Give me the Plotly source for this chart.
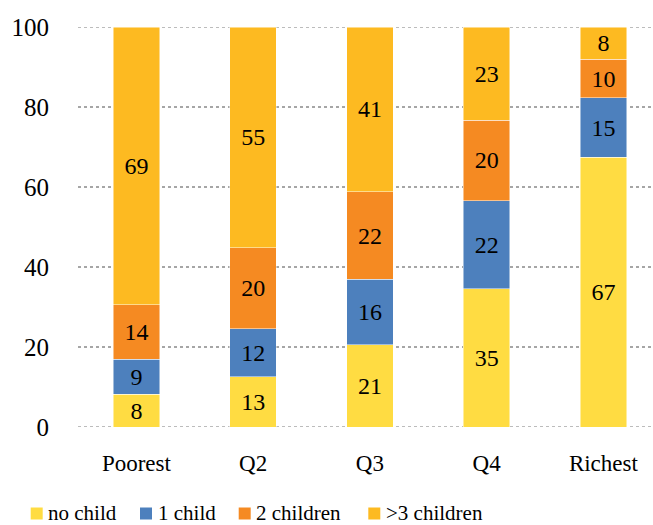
import plotly.graph_objects as go

categories = ["Poorest", "Q2", "Q3", "Q4", "Richest"]
no_child = [8.2, 12.6, 20.6, 34.6, 67.4]
one_child = [8.7, 12.0, 16.3, 22.0, 14.9]
two_children = [13.7, 20.2, 21.9, 20.1, 9.6]
three_plus = [69.4, 55.2, 41.2, 23.3, 8.1]
series_names = ["no child", "1 child", "2 children", ">3 children"]
series_colors = ["#FFDC42", "#4D80BD", "#F58A22", "#FDBA21"]
y_ticks = [0, 20, 40, 60, 80, 100]

FONT = "'Liberation Serif', 'Times New Roman', Times, serif"

W, H = 653, 525
ML, MR, MT, MB = 78, 0, 27, 98
PW, PH = W - ML - MR, H - MT - MB


def px_x(px):
    return (px - ML) / PW


def px_y(py):
    return (H - MB - py) / PH


fig = go.Figure()
for name, vals, color in zip(series_names, [no_child, one_child, two_children, three_plus], series_colors):
    fig.add_trace(go.Bar(
        x=categories, y=vals, name=name, showlegend=False,
        marker=dict(color=color, line=dict(color="rgba(255,255,255,0.6)", width=0.8)),
        width=0.4,
        texttemplate="%{y:.0f}",
        textposition="inside", insidetextanchor="middle", textangle=0,
        textfont=dict(family=FONT, size=24, color="black"),
        constraintext="none",
    ))

for yv in [0, 100]:
    fig.add_shape(type="line", xref="paper", yref="y", x0=0, x1=1, y0=yv, y1=yv,
                  line=dict(color="#A6A6A6", width=1.5, dash="dot"), layer="below")

# custom legend (layout only)
legend_sq_x = [30.7, 140.0, 238.7, 368.3]
legend_txt_x = [45.5, 155.5, 254.0, 384.0]
sq_y0, sq_y1 = 507.5, 519.5
for name, color, sx, tx in zip(series_names, series_colors, legend_sq_x, legend_txt_x):
    fig.add_shape(type="rect", xref="paper", yref="paper",
                  x0=px_x(sx), x1=px_x(sx + 12), y0=px_y(sq_y1), y1=px_y(sq_y0),
                  fillcolor=color, line=dict(width=0))
    fig.add_annotation(xref="paper", yref="paper", x=px_x(tx), y=px_y(513),
                       text=name, showarrow=False, xanchor="left", yanchor="middle",
                       font=dict(family=FONT, size=21, color="black"))

fig.update_layout(
    barmode="stack",
    width=W, height=H,
    margin=dict(l=ML, r=MR, t=MT, b=MB),
    paper_bgcolor="white", plot_bgcolor="white",
    font=dict(family=FONT, size=24, color="black"),
    showlegend=False,
)
fig.update_xaxes(
    range=[-0.5, 4.425], showgrid=False, zeroline=False, showline=False,
    ticks="", ticklabelstandoff=20,
    tickfont=dict(family=FONT, size=23, color="black"),
)
fig.update_yaxes(
    range=[0, 100], tickvals=y_ticks, showgrid=True,
    gridcolor="#A6A6A6", griddash="dot", gridwidth=1.5,
    zeroline=False, showline=False, ticks="", ticklabelstandoff=28,
    tickfont=dict(family=FONT, size=25, color="black"),
)

fig.write_html("out.html")
